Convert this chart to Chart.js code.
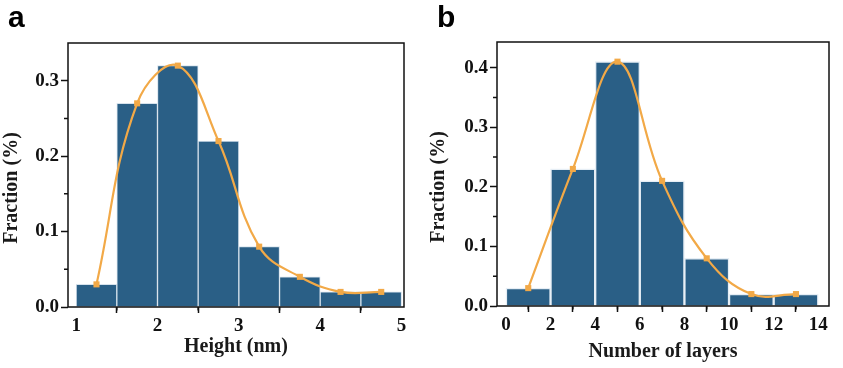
<!DOCTYPE html>
<html>
<head>
<meta charset="utf-8">
<script src="https://cdn.jsdelivr.net/npm/chart.js@4.4.1/dist/chart.umd.min.js"></script>
<style>
  body { margin: 0; background: #fff; width: 843px; height: 368px; position: relative; overflow: hidden; }
  canvas { position: absolute; top: 0; }
  .panel { position: absolute; font: bold 30px "Liberation Sans", Arial, sans-serif; line-height: 30px; color: #000; }
</style>
</head>
<body>
<canvas id="chart-height" width="420" height="368" style="left:0"></canvas>
<canvas id="chart-layers" width="423" height="368" style="left:420px"></canvas>
<div class="panel" style="left:8px;top:2px">a</div>
<div class="panel" style="left:437px;top:2px">b</div>
<script>
// panel a: height histogram (bin centres, 0.5 nm bins)
const heightCenters = [1.25, 1.75, 2.25, 2.75, 3.25, 3.75, 4.25, 4.75];
const heightFraction = [0.03, 0.27, 0.32, 0.22, 0.08, 0.04, 0.02, 0.02];
const heightTicks = [1, 2, 3, 4, 5];
const heightYTicks = [0, 0.1, 0.2, 0.3];

// panel b: layer-count histogram (bin centres, 2-layer bins)
const layerCenters = [1, 3, 5, 7, 9, 11, 13];
const layerFraction = [0.03, 0.23, 0.41, 0.21, 0.08, 0.02, 0.02];
const layerTicks = [0, 2, 4, 6, 8, 10, 12, 14];
const layerYTicks = [0, 0.1, 0.2, 0.3, 0.4];

const BAR = '#2a5f86';
const LINE = '#f2a947';
const INK = '#111';
const SERIF = '"Liberation Serif", "Times New Roman", serif';
const tickFont = { family: SERIF, size: 19, weight: 'bold' };
const titleFont = { family: SERIF, size: 20, weight: 'bold' };

const midpoints = (arr) => arr.slice(1).map((v, i) => (v + arr[i]) / 2);

// box round the plot, minor ticks, and the y title (sits a bit below centre in the original)
const framePlugin = {
  id: 'frame',
  afterDatasetsDraw(chart, args, opts) {
    const { ctx, chartArea: a, scales: { x, y } } = chart;
    ctx.save();
    ctx.strokeStyle = INK;
    ctx.lineWidth = 1.5;
    ctx.strokeRect(a.left, a.top, a.right - a.left, a.bottom - a.top);
    ctx.beginPath();
    opts.xMinor.forEach((v) => {
      const px = x.getPixelForValue(v);
      ctx.moveTo(px, a.bottom);
      ctx.lineTo(px, a.bottom + 3.5);
    });
    opts.yMinor.forEach((v) => {
      const py = y.getPixelForValue(v);
      ctx.moveTo(a.left, py);
      ctx.lineTo(a.left - 4, py);
    });
    ctx.stroke();

    ctx.translate(opts.titleX, (a.top + a.bottom) / 2 + 13);
    ctx.rotate(-Math.PI / 2);
    ctx.font = `bold ${titleFont.size}px ${SERIF}`;
    ctx.fillStyle = '#1a1a1a';
    ctx.textAlign = 'center';
    ctx.textBaseline = 'middle';
    ctx.fillText(opts.title, 0, 0);
    ctx.restore();
  }
};

function histogram(id, cfg) {
  const points = cfg.centers.map((c, i) => ({ x: c, y: cfg.values[i] }));
  return new Chart(document.getElementById(id), {
    type: 'bar',
    data: {
      datasets: [
        {
          type: 'line',
          data: points,
          borderColor: LINE,
          borderWidth: 2.2,
          tension: 0.4,
          pointStyle: 'rect',
          pointRadius: 4.3,
          pointBackgroundColor: LINE,
          pointBorderWidth: 0,
          order: 0
        },
        {
          data: points,
          backgroundColor: BAR,
          borderColor: cfg.edge,
          borderWidth: cfg.edgeWidth,
          borderSkipped: 'bottom',
          barPercentage: 1,
          categoryPercentage: 1,
          order: 1
        }
      ]
    },
    options: {
      responsive: false,
      animation: false,
      events: [],
      layout: { padding: { top: cfg.top, right: cfg.right, left: 0, bottom: 0 } },
      scales: {
        x: {
          type: 'linear',
          min: cfg.xMin,
          max: cfg.xMax,
          offset: false,
          afterBuildTicks: (s) => { s.ticks = cfg.xTicks.map((value) => ({ value })); },
          afterFit: (s) => { s.height = cfg.xAxisHeight; },
          grid: { drawOnChartArea: false, tickLength: 6, tickWidth: 1.5, tickColor: INK },
          border: { display: false },
          ticks: { font: tickFont, color: INK, padding: 2, maxRotation: 0, autoSkip: false, callback: (v) => String(v) },
          title: { display: true, text: cfg.xTitle, font: titleFont, color: '#1a1a1a', padding: { top: 0, bottom: cfg.xTitlePad } }
        },
        y: {
          min: 0,
          max: cfg.yMax,
          afterBuildTicks: (s) => { s.ticks = cfg.yTicks.map((value) => ({ value })); },
          afterFit: (s) => { s.width = cfg.yAxisWidth; },
          grid: { drawOnChartArea: false, tickLength: 7, tickWidth: 1.5, tickColor: INK },
          border: { display: false },
          ticks: { font: tickFont, color: INK, padding: 2, callback: (v) => v.toFixed(1) }
        }
      },
      plugins: {
        legend: { display: false },
        tooltip: { enabled: false },
        frame: { xMinor: midpoints(cfg.xTicks), yMinor: midpoints(cfg.yTicks), title: 'Fraction (%)', titleX: cfg.yTitleX }
      }
    },
    plugins: [framePlugin]
  });
}

histogram('chart-height', {
  centers: heightCenters, values: heightFraction,
  xTicks: heightTicks, yTicks: heightYTicks,
  xMin: 0.9, xMax: 5.03, yMax: 0.35,
  xTitle: 'Height (nm)',
  edge: '#d6e2ec', edgeWidth: 1,
  top: 43, right: 16, yAxisWidth: 68, xAxisHeight: 61,
  xTitlePad: 9, yTitleX: 12
});

histogram('chart-layers', {
  centers: layerCenters, values: layerFraction,
  xTicks: layerTicks, yTicks: layerYTicks,
  xMin: -0.4, xMax: 14.48, yMax: 0.443,
  xTitle: 'Number of layers',
  edge: '#e6eef5', edgeWidth: 1.5,
  top: 42, right: 14, yAxisWidth: 77, xAxisHeight: 62,
  xTitlePad: 4, yTitleX: 19
});
</script>
</body>
</html>
